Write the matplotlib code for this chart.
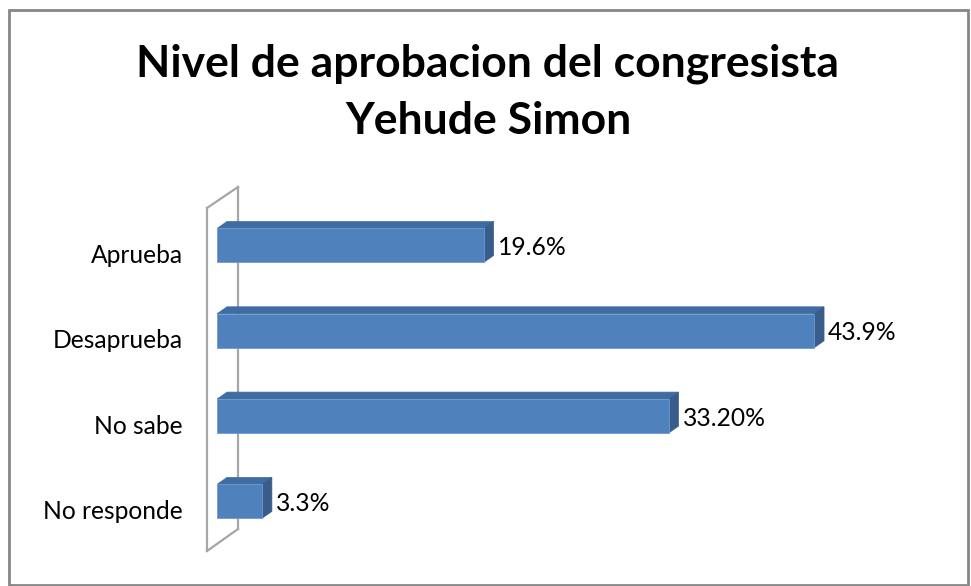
import numpy as np
import matplotlib.pyplot as plt
from matplotlib.patches import Polygon, Rectangle

categories = ["Aprueba", "Desaprueba", "No sabe", "No responde"]
values = [19.6, 43.9, 33.2, 3.3]
value_labels = ["19.6%", "43.9%", "33.20%", "3.3%"]
title = "Nivel de aprobacion del congresista\nYehude Simon"

plt.rcParams['font.family'] = ['Lato', 'DejaVu Sans']

W, H = 971, 586
fig = plt.figure(figsize=(W / 100, H / 100), dpi=100)

# outer chart border
fig.patches.append(Rectangle((9 / W, 1 - 585 / H), 959 / W, 575 / H, transform=fig.transFigure,
                             fill=False, edgecolor='#868686', linewidth=2))

# axes: x=0 at pixel 217, 13.6 px per unit; category spacing 85.3 px
pxx = 13.6
pxy = 85.3
ax_left, ax_right = 217, 960
ax_top = 245.5 - 0.7 * pxy
ax_bot = ax_top + 4.3 * pxy
ax = fig.add_axes([ax_left / W, 1 - ax_bot / H, (ax_right - ax_left) / W, (ax_bot - ax_top) / H])
ax.set_xlim(0, (ax_right - ax_left) / pxx)
ax.set_ylim(3.6, -0.7)
ax.axis('off')

# px -> data helpers
dx = lambda p: p / pxx
dy = lambda p: p / pxy

# 3D wall (left side)
wall_front = dx(207 - 217)
wall_back = dx(238 - 217)
y_top_front = (208 - ax_top) / pxy - 0.7
y_top_back = (187 - ax_top) / pxy - 0.7
y_bot_front = (551 - ax_top) / pxy - 0.7
y_bot_back = (529 - ax_top) / pxy - 0.7
wall_kw = dict(color='#a6a6a6', lw=1.6, clip_on=False, zorder=1)
ax.plot([wall_front, wall_front], [y_top_front, y_bot_front], **wall_kw)
ax.plot([wall_back, wall_back], [y_top_back, y_bot_back], **wall_kw)
ax.plot([wall_front, wall_back], [y_top_front, y_top_back], **wall_kw)
ax.plot([wall_front, wall_back], [y_bot_front, y_bot_back], **wall_kw)

bar_h = 34 / pxy
depth_x = dx(10)
depth_y = dy(7)
ypos = np.arange(len(categories))

ax.barh(ypos, values, height=bar_h, color='#4f81bd', edgecolor='#6f9bd0', linewidth=0.6, zorder=3)
for y, v, lab in zip(ypos, values, value_labels):
    top = y - bar_h / 2
    bot = y + bar_h / 2
    ax.add_patch(Polygon([(0, top), (v, top), (v + depth_x, top - depth_y), (depth_x, top - depth_y)],
                         closed=True, facecolor='#3f6ca3', edgecolor='#3f6ca3', lw=0.5, zorder=2.5))
    ax.add_patch(Polygon([(v, top), (v + depth_x, top - depth_y), (v + depth_x, bot - depth_y), (v, bot)],
                         closed=True, facecolor='#385d8a', edgecolor='#385d8a', lw=0.5, zorder=2.6))
    ax.text(v + depth_x + dx(4), y + dy(2), lab, ha='left', va='center', fontsize=17.7, color='black')
    ax.text(dx(183 - 217), y + dy(10), categories[int(y)], ha='right', va='center',
            fontsize=17.7, color='black', clip_on=False)

fig.text(488 / W, 1 - 92 / H, title, ha='center', va='center', fontsize=32, fontweight='bold',
         linespacing=1.5)

fig.savefig('out.png', dpi=100, facecolor='white')
